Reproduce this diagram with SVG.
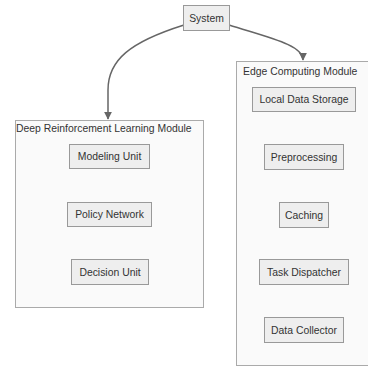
<svg xmlns="http://www.w3.org/2000/svg" width="368" height="367" viewBox="0 0 368 367">
<style>
.cl{fill:#fafafa;stroke:#aaa;stroke-width:1}
.nd{fill:#eee;stroke:#999;stroke-width:1}
.t{font-family:"Liberation Sans",Arial,sans-serif;font-size:10.4px;fill:#333;text-anchor:middle;dominant-baseline:central}
.ct{font-family:"Liberation Sans",Arial,sans-serif;font-size:10.4px;fill:#333}
.e{fill:none;stroke:#666;stroke-width:1.5}
</style>
<defs>
<marker id="ah" viewBox="0 0 10 10" refX="9" refY="5" markerWidth="8" markerHeight="8" orient="auto" markerUnits="userSpaceOnUse">
<path d="M0,0L10,5L0,10z" fill="#666"/>
</marker>
</defs>
<rect width="368" height="367" fill="#fff"/>
<g id="cluster-drl">
<rect class="cl" x="15.5" y="120.5" width="188" height="187"/>
<text class="ct" x="16" y="132">Deep Reinforcement Learning Module</text>
</g>
<g id="cluster-edge">
<rect class="cl" x="236.5" y="61.5" width="133" height="304"/>
<text class="ct" x="243" y="74.5">Edge Computing Module</text>
</g>
<g id="connectors">
<path class="e" d="M184,25 C130,42 108,60 108,90 L108,119" marker-end="url(#ah)"/>
<path class="e" d="M229,25 C270,38 303,45 303,60" marker-end="url(#ah)"/>
</g>
<g id="system"><rect class="nd" x="183.5" y="5.5" width="46" height="25"/><text class="t" x="206.5" y="18">System</text></g>
<g id="modeling"><rect class="nd" x="69.5" y="144.5" width="80" height="24"/><text class="t" x="109.5" y="156.5">Modeling Unit</text></g>
<g id="policy"><rect class="nd" x="67.5" y="202.5" width="84" height="24"/><text class="t" x="109.5" y="214.5">Policy Network</text></g>
<g id="decision"><rect class="nd" x="71.5" y="259.5" width="77" height="25"/><text class="t" x="110" y="272">Decision Unit</text></g>
<g id="storage"><rect class="nd" x="252.5" y="87.5" width="103" height="24"/><text class="t" x="304" y="99.5">Local Data Storage</text></g>
<g id="preproc"><rect class="nd" x="264.5" y="144.5" width="79" height="25"/><text class="t" x="304" y="157">Preprocessing</text></g>
<g id="caching"><rect class="nd" x="279.5" y="202.5" width="49" height="25"/><text class="t" x="304" y="215">Caching</text></g>
<g id="dispatcher"><rect class="nd" x="259.5" y="259.5" width="89" height="25"/><text class="t" x="304" y="272">Task Dispatcher</text></g>
<g id="collector"><rect class="nd" x="264.5" y="317.5" width="79" height="25"/><text class="t" x="304" y="330">Data Collector</text></g>
</svg>
